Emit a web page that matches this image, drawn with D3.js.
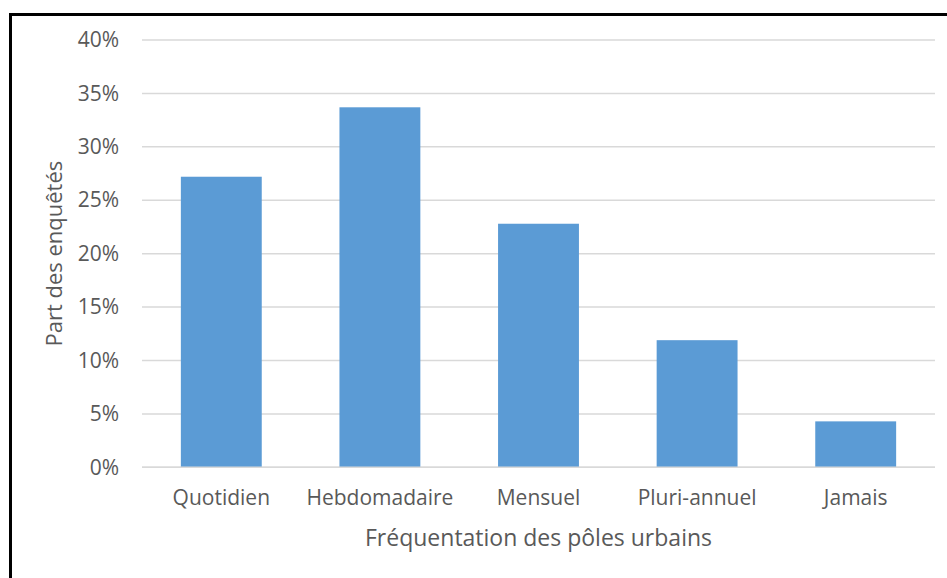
<!DOCTYPE html>
<html>
<head>
<meta charset="utf-8">
<script src="https://cdn.jsdelivr.net/npm/d3@7"></script>
<style>
  html, body { margin: 0; padding: 0; background: #fff; }
  svg { display: block; }
  text { font-family: "Open Sans", "Noto Sans", sans-serif; fill: #595959; }
</style>
</head>
<body>
<svg id="chart" width="947" height="578"></svg>
<script>
// Survey share by frequency of visits to urban centres
const categories = ["Quotidien", "Hebdomadaire", "Mensuel", "Pluri-annuel", "Jamais"];
const shares = [0.272, 0.337, 0.228, 0.119, 0.043];
const yTicks = [0, 0.05, 0.10, 0.15, 0.20, 0.25, 0.30, 0.35, 0.40];
const xTitle = "Fréquentation des pôles urbains";
const yTitle = "Part des enquêtés";

const svg = d3.select("#chart");
const W = 947, H = 578;
const plot = { left: 142, right: 935, top: 40, bottom: 467.3 };

// Outer frame (left and top edges)
svg.append("path")
  .attr("d", `M10.5,${H + 5} L10.5,14.5 L${W + 5},14.5`)
  .attr("fill", "none")
  .attr("stroke", "#000")
  .attr("stroke-width", 3);

const x = d3.scaleBand()
  .domain(categories)
  .range([plot.left, plot.right])
  .paddingInner(0.49)
  .paddingOuter(0.245);

const y = d3.scaleLinear()
  .domain([0, 0.40])
  .range([plot.bottom, plot.top]);

// Horizontal gridlines
svg.append("g")
  .selectAll("line")
  .data(yTicks)
  .join("line")
  .attr("x1", plot.left)
  .attr("x2", plot.right)
  .attr("y1", d => y(d))
  .attr("y2", d => y(d))
  .attr("stroke", "#d9d9d9")
  .attr("stroke-width", 1.5);

// Bars
svg.append("g")
  .selectAll("rect")
  .data(categories.map((c, i) => ({ c, v: shares[i] })))
  .join("rect")
  .attr("x", d => x(d.c))
  .attr("width", x.bandwidth())
  .attr("y", d => y(d.v))
  .attr("height", d => y(0) - y(d.v))
  .attr("fill", "#5b9bd5");

// Baseline drawn over the bars
svg.append("line")
  .attr("x1", plot.left).attr("x2", plot.right)
  .attr("y1", y(0)).attr("y2", y(0))
  .attr("stroke", "#d9d9d9").attr("stroke-width", 1.5);

// Y axis labels
const yAxis = d3.axisLeft(y)
  .tickValues(yTicks)
  .tickFormat(d3.format(".0%"))
  .tickSize(0)
  .tickPadding(0);
const gy = svg.append("g")
  .attr("transform", `translate(119,0)`)
  .call(yAxis);
gy.select(".domain").remove();
gy.selectAll("text")
  .attr("font-size", 21)
  .attr("font-family", null)
  .attr("fill", "#595959");

// X axis labels
const xAxis = d3.axisBottom(x).tickSize(0).tickPadding(0);
const gx = svg.append("g")
  .attr("transform", `translate(0,${plot.bottom})`)
  .call(xAxis);
gx.select(".domain").remove();
gx.selectAll("text")
  .attr("y", 30)
  .attr("dy", "0.35em")
  .attr("font-size", 21)
  .attr("font-family", null)
  .attr("fill", "#595959");

// Axis titles
svg.append("text")
  .attr("x", (plot.left + plot.right) / 2)
  .attr("y", 538)
  .attr("dy", "0.35em")
  .attr("text-anchor", "middle")
  .attr("font-size", 23)
  .text(xTitle);

svg.append("text")
  .attr("transform", `translate(54,${(plot.top + plot.bottom) / 2}) rotate(-90)`)
  .attr("dy", "0.35em")
  .attr("text-anchor", "middle")
  .attr("font-size", 22)
  .text(yTitle);
</script>
</body>
</html>
